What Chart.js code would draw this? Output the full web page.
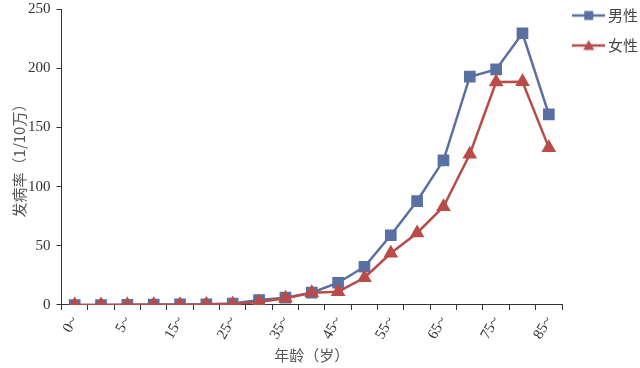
<!DOCTYPE html>
<html>
<head>
<meta charset="utf-8">
<script src="https://cdn.jsdelivr.net/npm/chart.js@4/dist/chart.umd.min.js"></script>
<style>
html,body{margin:0;padding:0;background:#fff;}
#wrap{width:640px;height:368px;position:relative;}
</style>
</head>
<body>
<div id="wrap"><canvas id="c" width="640" height="368"></canvas></div>
<script>
const categories = ['0~','1~','5~','10~','15~','20~','25~','30~','35~','40~','45~','50~','55~','60~','65~','70~','75~','80~','85~'];
const maleValues = [0, 0, 0.2, 0.4, 0.5, 0.6, 1.2, 4.2, 6.2, 10.4, 18.8, 32.3, 58.9, 87.8, 122.2, 192.8, 199, 229.5, 161];
const femaleValues = [0, 0, 0.1, 0.2, 0.3, 0.5, 0.8, 2.5, 5.7, 10.4, 11.2, 23, 43.7, 60.8, 83, 127.3, 188.3, 188.6, 132.9];
const seriesNames = ['男性', '女性'];
const yTicks = [0, 50, 100, 150, 200, 250];
const xTitle = '年龄（岁）';
const yTitle = '发病率（1/10万）';

const BLUE = '#5A70A2';
const RED = '#B94B48';

function legendIcon(color, style) {
  const cv = document.createElement('canvas');
  cv.width = 33; cv.height = 14;
  const g = cv.getContext('2d');
  g.strokeStyle = color; g.lineWidth = 2.5;
  g.beginPath(); g.moveTo(0, 7); g.lineTo(33, 7); g.stroke();
  g.fillStyle = color;
  if (style === 'rect') {
    g.fillRect(12, 2.5, 9, 9);
  } else {
    g.beginPath(); g.moveTo(16.5, 1.5); g.lineTo(22, 11.5); g.lineTo(11, 11.5); g.closePath(); g.fill();
  }
  return cv;
}
const icons = [legendIcon(BLUE, 'rect'), legendIcon(RED, 'triangle')];

const serif = '"Liberation Serif", "Times New Roman", serif';
const xTickFont = {family: serif, size: 15};
const yTickFont = {family: serif, size: 15, lineHeight: 0.27};
const cjkFont = {family: '"Noto Sans CJK SC", sans-serif', size: 15};

new Chart(document.getElementById('c'), {
  type: 'line',
  data: {
    labels: categories,
    datasets: [
      {label: seriesNames[0], data: maleValues, borderColor: BLUE, backgroundColor: BLUE,
       borderWidth: 2.5, pointStyle: 'rect', pointRadius: 6.5, pointHoverRadius: 6.5, tension: 0, order: 1},
      {label: seriesNames[1], data: femaleValues, borderColor: RED, backgroundColor: RED,
       borderWidth: 2.5, pointStyle: 'triangle', pointRadius: 6, pointHoverRadius: 6, tension: 0, order: 0}
    ]
  },
  options: {
    responsive: false,
    animation: false,
    events: [],
    layout: {padding: {top: -7, left: 0, right: 0, bottom: 4}},
    plugins: {
      tooltip: {enabled: false},
      legend: {
        position: 'right',
        align: 'start',
        maxWidth: 78,
        labels: {
          usePointStyle: true,
          pointStyleWidth: 23.5,
          padding: 15,
          color: '#444',
          font: cjkFont,
          generateLabels: (chart) => seriesNames.map((n, i) => ({
            text: n, pointStyle: icons[i], fillStyle: i ? RED : BLUE,
            strokeStyle: i ? RED : BLUE, lineWidth: 0, hidden: false, datasetIndex: i, fontColor: '#444'
          }))
        }
      }
    },
    scales: {
      x: {
        type: 'category',
        offset: true,
        grid: {offset: true, drawOnChartArea: false, drawTicks: true, tickLength: 5, color: '#333', lineWidth: 1},
        border: {display: true, color: '#333', width: 1},
        ticks: {
          autoSkip: false, minRotation: 60, maxRotation: 60, padding: 3.5, color: '#333', font: xTickFont,
          callback: (v, i) => (i % 2 === 0 ? categories[i] : '')
        },
        title: {display: true, text: xTitle, color: '#555', font: cjkFont, padding: {top: 0, bottom: 0}}
      },
      y: {
        min: 0, max: 250,
        afterBuildTicks: (s) => { s.ticks = yTicks.map(v => ({value: v})); },
        grid: {drawOnChartArea: false, drawTicks: true, tickLength: 5, color: '#333', lineWidth: 1},
        border: {display: true, color: '#333', width: 1},
        ticks: {padding: 6, color: '#333', font: yTickFont},
        title: {display: true, text: yTitle, color: '#555', font: cjkFont, padding: {top: 10, bottom: -6}}
      }
    }
  }
});
</script>
</body>
</html>
